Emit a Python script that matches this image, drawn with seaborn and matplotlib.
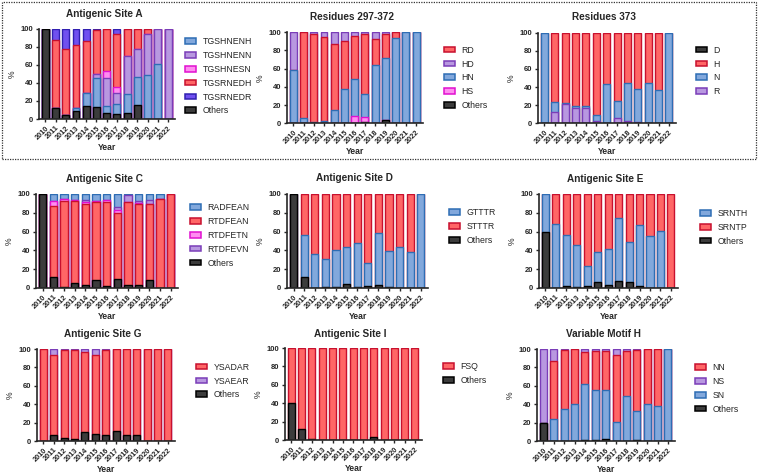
import numpy as np
import pandas as pd
import matplotlib
matplotlib.use("Agg")
import matplotlib.pyplot as plt
from matplotlib.patches import Patch, Rectangle
import seaborn as sns

years = [str(y) for y in range(2010, 2023)]

# Antigenic Site A
a_tgshnenh = [0, 0, 0, 3, 15, 32, 7, 12, 21, 32, 49, 61, 0]
a_tgshnenn = [0, 0, 0, 0, 0, 5, 31, 12, 42, 30, 45, 39, 100]
a_tgshnesn = [0, 0, 0, 0, 0, 0, 8, 6, 0, 0, 0, 0, 0]
a_tgsrnedh = [0, 75, 74, 70, 57, 49, 47, 59, 30, 23, 6, 0, 0]
a_tgsrnedr = [0, 13, 22, 18, 14, 1, 0, 6, 0, 0, 0, 0, 0]
a_others = [100, 12, 4, 9, 14, 13, 7, 5, 7, 15, 0, 0, 0]

# Residues 297-372
r1_rd = [0, 94, 97, 92, 72, 52, 47, 66, 29, 26, 6, 0, 0]
r1_hd = [41, 0, 2, 5, 13, 10, 4, 2, 7, 2, 0, 0, 0]
r1_hn = [59, 6, 1, 3, 15, 38, 41, 25, 64, 68, 94, 100, 100]
r1_hs = [0, 0, 0, 0, 0, 0, 8, 6, 0, 0, 0, 0, 0]
r1_others = [0, 0, 0, 0, 0, 0, 0, 1, 0, 4, 0, 0, 0]

# Residues 373
r2_d = [0, 0, 0, 0, 0, 0, 0, 0, 0, 0, 0, 0, 0]
r2_h = [0, 76, 78, 81, 81, 91, 57, 75, 55, 62, 56, 63, 0]
r2_n = [100, 12, 1, 2, 2, 7, 43, 19, 43, 37, 44, 37, 100]
r2_r = [0, 12, 21, 17, 17, 2, 0, 6, 2, 1, 0, 0, 0]

# Antigenic Site C
c_radfean = [0, 7, 5, 6, 6, 7, 6, 14, 1, 7, 6, 5, 0]
c_rtdfean = [0, 75, 92, 88, 86, 84, 89, 70, 89, 86, 80, 95, 100]
c_rtdfetn = [0, 6, 2, 1, 3, 1, 3, 3, 0, 1, 0, 0, 0]
c_rtdfevn = [0, 0, 0, 0, 2, 0, 0, 3, 7, 3, 5, 0, 0]
c_others = [100, 12, 1, 5, 3, 8, 2, 10, 3, 3, 9, 0, 0]

# Antigenic Site D
d_gtttr = [0, 44, 36, 30, 39, 40, 47, 25, 56, 38, 44, 38, 100]
d_stttr = [0, 44, 64, 69, 60, 56, 52, 73, 41, 61, 56, 62, 0]
d_others = [100, 12, 0, 1, 1, 4, 1, 2, 3, 1, 0, 0, 0]

# Antigenic Site E
e_srnth = [40, 68, 54, 45, 21, 32, 39, 68, 43, 65, 55, 61, 0]
e_srntp = [0, 32, 44, 54, 77, 62, 58, 25, 51, 33, 45, 39, 100]
e_others = [60, 0, 2, 1, 2, 6, 3, 7, 6, 2, 0, 0, 0]

# Antigenic Site G
g_ysadar = [100, 88, 96, 97, 87, 86, 92, 89, 94, 94, 100, 100, 100]
g_ysaear = [0, 6, 1, 1, 3, 6, 1, 0, 0, 0, 0, 0, 0]
g_others = [0, 6, 3, 2, 10, 8, 7, 11, 6, 6, 0, 0, 0]

# Antigenic Site I
i_fsq = [60, 88, 98.5, 100, 99.5, 100, 99.5, 100, 97, 99.5, 100, 100, 100]
i_others = [40, 12, 1.5, 0, 0.5, 0, 0.5, 0, 3, 0.5, 0, 0, 0]

# Variable Motif H
h_nn = [0, 63, 64, 60, 35, 43, 43, 73, 49, 66, 60, 62, 0]
h_ns = [80, 13, 1, 0, 3, 2, 2, 6, 2, 1, 0, 0, 0]
h_sn = [0, 24, 35, 40, 61, 54, 53, 21, 49, 32, 40, 38, 100]
h_others = [20, 0, 0, 0, 1, 1, 2, 0, 0, 1, 0, 0, 0]

# (fill, edge)
RED = ("#FF6666", "#C8102E")
BLUE = ("#82A8DC", "#2E6DB4")
PURPLE = ("#B898E0", "#7A3DB8")
PINK = ("#FF8CF0", "#E010D0")
VIOLET = ("#7050F0", "#3020B0")
BLACK = ("#3C3C3C", "#000000")

sns.set_style("ticks")
plt.rcParams['font.family'] = ['Liberation Sans', 'DejaVu Sans']

W, H = 760, 473
fig = plt.figure(figsize=(W / 100, H / 100), dpi=100)


def fx(x):
    return x / W


def fy(y):
    return 1 - y / H


# each panel: title, axes box in px (l, t, r, b), stack bottom->top, legend order, legend pos
panels = [
    ("Antigenic Site A", (39, 28.7, 175, 119),
     [("Others", a_others, BLACK), ("TGSHNENH", a_tgshnenh, BLUE), ("TGSHNENN", a_tgshnenn, PURPLE),
      ("TGSHNESN", a_tgshnesn, PINK), ("TGSRNEDH", a_tgsrnedh, RED), ("TGSRNEDR", a_tgsrnedr, VIOLET)],
     ["TGSHNENH", "TGSHNENN", "TGSHNESN", "TGSRNEDH", "TGSRNEDR", "Others"], (185, 42.3), 14),
    ("Residues 297-372", (287, 32.3, 423, 123.3),
     [("Others", r1_others, BLACK), ("HS", r1_hs, PINK), ("HN", r1_hn, BLUE),
      ("RD", r1_rd, RED), ("HD", r1_hd, PURPLE)],
     ["RD", "HD", "HN", "HS", "Others"], (444, 50.7), 16.7),
    ("Residues 373", (538, 32.7, 676, 123.3),
     [("D", r2_d, BLACK), ("R", r2_r, PURPLE), ("N", r2_n, BLUE), ("H", r2_h, RED)],
     ["D", "H", "N", "R"], (696, 50.7), 16.7),
    ("Antigenic Site C", (36, 194, 178, 288),
     [("Others", c_others, BLACK), ("RTDFEAN", c_rtdfean, RED), ("RTDFETN", c_rtdfetn, PINK),
      ("RTDFEVN", c_rtdfevn, PURPLE), ("RADFEAN", c_radfean, BLUE)],
     ["RADFEAN", "RTDFEAN", "RTDFETN", "RTDFEVN", "Others"], (190, 208.3), 179),
    ("Antigenic Site D", (287, 194, 428, 288),
     [("Others", d_others, BLACK), ("GTTTR", d_gtttr, BLUE), ("STTTR", d_stttr, RED)],
     ["GTTTR", "STTTR", "Others"], (449, 213.3), 178.3),
    ("Antigenic Site E", (539, 194, 678, 288),
     [("Others", e_others, BLACK), ("SRNTH", e_srnth, BLUE), ("SRNTP", e_srntp, RED)],
     ["SRNTH", "SRNTP", "Others"], (700, 214), 179),
    ("Antigenic Site G", (37, 349, 175, 441),
     [("Others", g_others, BLACK), ("YSADAR", g_ysadar, RED), ("YSAEAR", g_ysaear, PURPLE)],
     ["YSADAR", "YSAEAR", "Others"], (196, 367.7), 334.3),
    ("Antigenic Site I", (285, 348, 422, 440),
     [("Others", i_others, BLACK), ("FSQ", i_fsq, RED)],
     ["FSQ", "Others"], (443, 367.3), 334.3),
    ("Variable Motif H", (537, 349, 675, 441),
     [("Others", h_others, BLACK), ("SN", h_sn, BLUE), ("NN", h_nn, RED), ("NS", h_ns, PURPLE)],
     ["NN", "NS", "SN", "Others"], (695, 368.3), 334.3),
]

for title, (l, t, r, b), stack, leg_order, (lx, ly), ty in panels:
    ax = fig.add_axes([fx(l), fy(b), fx(r) - fx(l), (b - t) / H])
    cum = np.cumsum([vals for _, vals, _ in stack], axis=0)
    # draw cumulative heights from top layer down so each segment shows
    for k in reversed(range(len(stack))):
        fc, ec = stack[k][2]
        df = pd.DataFrame({"year": years, "pct": cum[k]})
        sns.barplot(data=df, x="year", y="pct", order=years, color=fc, saturation=1,
                    edgecolor=ec, linewidth=1.0, width=0.68, errorbar=None, ax=ax)
    ax.set_xlim(-0.62, 12.68)
    ax.set_ylim(0, 100)
    ax.set_yticks(range(0, 101, 20))
    ax.set_xlabel("")
    ax.set_ylabel("")
    for s in ["top", "right"]:
        ax.spines[s].set_visible(False)
    for s in ["left", "bottom"]:
        ax.spines[s].set_linewidth(1.2)
    ax.tick_params(axis="both", length=2.5, width=1.0, pad=1.5, labelsize=5.5)
    for lab in ax.get_yticklabels():
        lab.set_fontweight("bold")
    ax.set_xticks(range(len(years)))
    ax.set_xticklabels(years, rotation=45, ha="right", rotation_mode="anchor",
                       fontweight="bold", fontsize=5.3)

    cx = (l + r) / 2
    fig.text(fx(cx - 3), fy(ty), title, ha="center", va="center", fontsize=7.2, fontweight="bold")
    fig.text(fx(cx), fy(b + 28), "Year", ha="center", va="center", fontsize=6.2, fontweight="bold")
    fig.text(fx(l - 27), fy((t + b) / 2), "%", ha="center", va="center", rotation=90, fontsize=6.2)

    colors = {name: c for name, _, c in stack}
    handles = [Patch(facecolor=colors[n][0], edgecolor=colors[n][1], linewidth=1.1, label=n)
               for n in leg_order]
    ax.legend(handles=handles, loc="upper left", bbox_to_anchor=(fx(lx), fy(ly - 5)),
              bbox_transform=fig.transFigure, frameon=False, fontsize=6.3,
              handlelength=1.3, handleheight=0.6, handletextpad=0.7,
              labelspacing=0.55, borderpad=0, borderaxespad=0)

# dotted frame around the top row
fig.add_artist(Rectangle((fx(2), fy(159)), fx(756) - fx(2), (159 - 2) / H,
                         transform=fig.transFigure, fill=False, linestyle=(0, (1, 1)),
                         linewidth=0.9, edgecolor="#333333"))

fig.savefig("out.png", dpi=100)
